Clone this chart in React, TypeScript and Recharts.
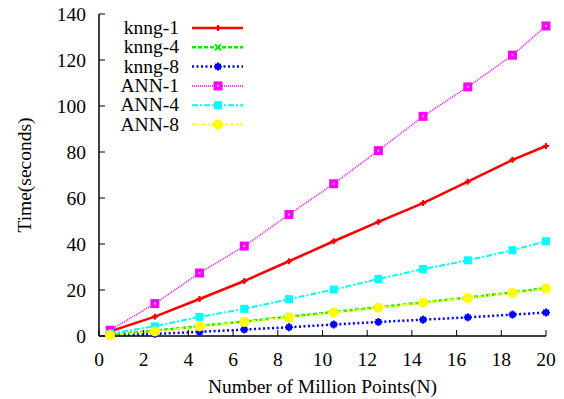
import { LineChart, Line, XAxis, YAxis } from 'recharts'

// million points (N)
const sizes = [0.5, 2.5, 4.5, 6.5, 8.5, 10.5, 12.5, 14.5, 16.5, 18.5, 20]
// time in seconds
const knng1 = [2.0, 8.4, 16.1, 23.9, 32.5, 41.2, 49.6, 57.8, 67.1, 76.6, 82.6]
const knng4 = [0.5, 2.3, 4.3, 6.3, 8.4, 10.4, 12.5, 14.6, 16.7, 18.9, 20.9]
const knng8 = [0.2, 0.9, 1.8, 2.8, 3.8, 5.0, 6.1, 7.1, 8.1, 9.3, 10.2]
const ann1 = [2.5, 14.1, 27.4, 39.1, 52.8, 66.2, 80.6, 95.5, 108.3, 122.1, 134.8]
const ann4 = [1.0, 4.2, 8.3, 11.8, 16.0, 20.2, 24.8, 29.1, 32.9, 37.3, 41.2]
const ann8 = [0.3, 2.0, 4.1, 6.1, 8.0, 10.2, 12.3, 14.5, 16.5, 18.7, 20.6]

const xTicks = [0, 2, 4, 6, 8, 10, 12, 14, 16, 18, 20]
const yTicks = [0, 20, 40, 60, 80, 100, 120, 140]

type Shape = 'plus' | 'cross' | 'star' | 'box' | 'square' | 'circle'

const series: { key: string; name: string; color: string; width: number; dash?: string; shape: Shape }[] = [
  { key: 'knng1', name: 'knng-1', color: '#ff0000', width: 2.5, shape: 'plus' },
  { key: 'knng4', name: 'knng-4', color: '#00ee00', width: 2.5, dash: '4 2', shape: 'cross' },
  { key: 'knng8', name: 'knng-8', color: '#0000ff', width: 2.5, dash: '2 2.5', shape: 'star' },
  { key: 'ann1', name: 'ANN-1', color: '#ff00ff', width: 1.5, dash: '1 1', shape: 'box' },
  { key: 'ann4', name: 'ANN-4', color: '#00ffff', width: 2, dash: '6 2 2 2', shape: 'square' },
  { key: 'ann8', name: 'ANN-8', color: '#ffff00', width: 2, dash: '4 2 1.5 2', shape: 'circle' },
]

const data = sizes.map((x, i) => ({
  x,
  knng1: knng1[i],
  knng4: knng4[i],
  knng8: knng8[i],
  ann1: ann1[i],
  ann4: ann4[i],
  ann8: ann8[i],
}))

const FONT = '"Liberation Serif", "DejaVu Serif", serif'
const FS = 19.5

function Marker({ shape, cx, cy, color }: { shape: Shape; cx: number; cy: number; color: string }) {
  switch (shape) {
    case 'plus':
      return (
        <g>
          <line x1={cx - 3} x2={cx + 3} y1={cy} y2={cy} stroke={color} strokeWidth={2} />
          <line x1={cx} x2={cx} y1={cy - 3} y2={cy + 3} stroke={color} strokeWidth={2} />
          <circle cx={cx} cy={cy} r={2} fill={color} />
        </g>
      )
    case 'cross':
      return (
        <g>
          <line x1={cx - 3} x2={cx + 3} y1={cy - 3} y2={cy + 3} stroke={color} strokeWidth={2} />
          <line x1={cx - 3} x2={cx + 3} y1={cy + 3} y2={cy - 3} stroke={color} strokeWidth={2} />
        </g>
      )
    case 'star':
      return (
        <g>
          <rect x={cx - 3} y={cy - 3} width={6} height={6} fill={color} />
          <line x1={cx - 4} x2={cx + 4} y1={cy} y2={cy} stroke={color} strokeWidth={2} />
          <line x1={cx} x2={cx} y1={cy - 4} y2={cy + 4} stroke={color} strokeWidth={2} />
        </g>
      )
    case 'box':
      return (
        <g>
          <rect x={cx - 4.5} y={cy - 4.5} width={9} height={9} fill={color} />
          <rect x={cx - 1} y={cy - 1} width={2} height={2} fill="#ff9cff" />
        </g>
      )
    case 'square':
      return <rect x={cx - 4} y={cy - 4} width={8} height={8} fill={color} />
    default:
      return <circle cx={cx} cy={cy} r={5} fill={color} />
  }
}

function LegendBox() {
  return (
    <svg width={564} height={399} style={{ position: 'absolute', left: 0, top: 0, pointerEvents: 'none' }}>
      {series.map((s, i) => {
        const y = 28 + i * 19.3
        return (
          <g key={s.key}>
            <text x={179} y={y + 6} textAnchor="end" fontFamily={FONT} fontSize={FS} fill="#000">{s.name}</text>
            <line x1={192} x2={243} y1={y} y2={y} stroke={s.color} strokeWidth={s.width} strokeDasharray={s.dash} />
            <Marker shape={s.shape} cx={218} cy={y} color={s.color} />
          </g>
        )
      })}
    </svg>
  )
}

export default function App() {
  const tickStyle = { fill: '#000', fontSize: FS, fontFamily: FONT }
  return (
    <div style={{ position: 'absolute', left: 0, top: 0, width: 564, height: 399, background: '#fff' }}>
      <LineChart width={564} height={399} data={data} margin={{ top: 14, right: 18, bottom: 0, left: 0 }}>
        <XAxis
          dataKey="x" type="number" domain={[0, 20]} ticks={xTicks} height={63}
          tick={tickStyle} tickSize={-6} tickMargin={22}
          axisLine={{ stroke: '#000', strokeWidth: 1.5 }} tickLine={{ stroke: '#000', strokeWidth: 1 }}
          label={{ value: 'Number of Million Points(N)', position: 'insideBottom', offset: 6, fill: '#000', fontSize: FS, fontFamily: FONT }}
        />
        <XAxis
          xAxisId="top" orientation="top" type="number" domain={[0, 20]} ticks={xTicks} height={0}
          tick={false} tickSize={-6}
          axisLine={{ stroke: '#000', strokeWidth: 1.5 }} tickLine={{ stroke: '#000', strokeWidth: 1 }}
        />
        <YAxis
          type="number" domain={[0, 140]} ticks={yTicks} width={99}
          tick={tickStyle} tickSize={-6} tickMargin={19}
          axisLine={{ stroke: '#000', strokeWidth: 1.5 }} tickLine={{ stroke: '#000', strokeWidth: 1 }}
          label={{ value: 'Time(seconds)', angle: -90, position: 'insideLeft', offset: 24, fill: '#000', fontSize: FS, fontFamily: FONT, style: { textAnchor: 'middle' } }}
        />
        <YAxis
          yAxisId="right" orientation="right" type="number" domain={[0, 140]} ticks={yTicks} width={0}
          tick={false} tickSize={-6}
          axisLine={{ stroke: '#000', strokeWidth: 1.5 }} tickLine={{ stroke: '#000', strokeWidth: 1 }}
        />
        {series.map(s => (
          <Line
            key={s.key} dataKey={s.key} name={s.name} type="linear"
            stroke={s.color} strokeWidth={s.width} strokeDasharray={s.dash}
            dot={(p: any) => <Marker key={p.index} shape={s.shape} cx={p.cx} cy={p.cy} color={s.color} />}
            activeDot={false} isAnimationActive={false}
          />
        ))}
      </LineChart>
      <LegendBox />
    </div>
  )
}
